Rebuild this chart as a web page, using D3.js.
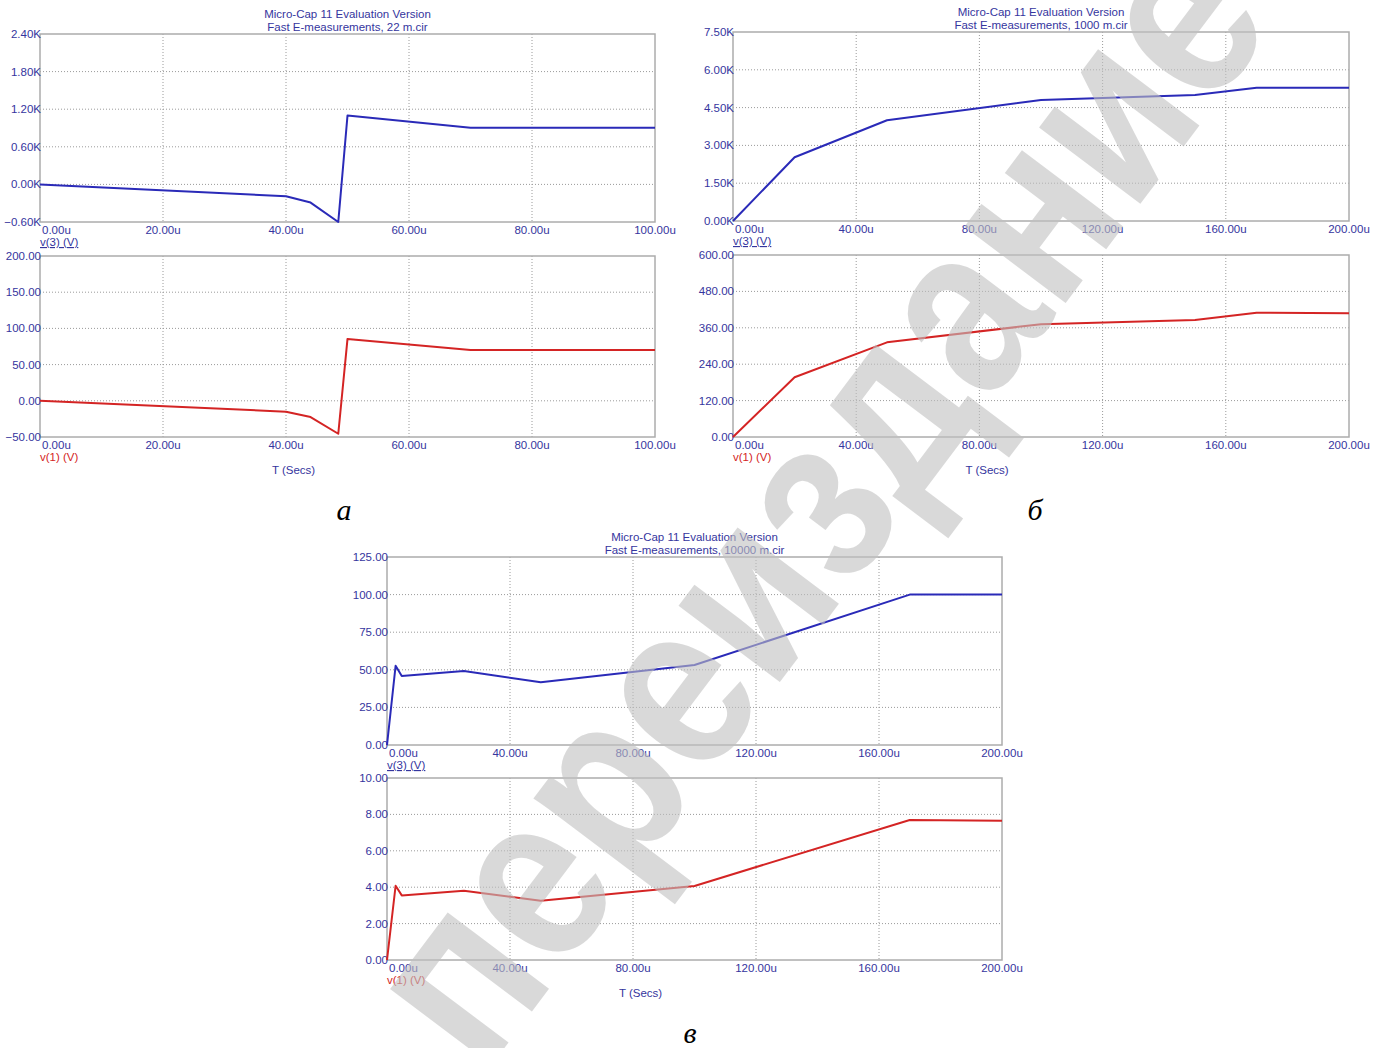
<!DOCTYPE html>
<html>
<head>
<meta charset="utf-8">
<script src="https://cdn.jsdelivr.net/npm/d3@7"></script>
<style>
  body { margin: 0; background: #fff; }
  svg text { font-family: "Liberation Sans", Arial, sans-serif; }
</style>
</head>
<body>
<svg id="vis" width="1384" height="1048"></svg>
<script>
// panel a (22 m.cir), time in us
const aTime = [0, 40, 44, 48.5, 50, 70, 100];
const aV3 = [0, -0.19, -0.29, -0.6, 1.10, 0.905, 0.905];   // K
const aV1 = [0, -15, -22.5, -45.5, 85.5, 70.2, 70.2];
const aXTicks = [0, 20, 40, 60, 80, 100];
const aV3Ticks = [-0.6, 0, 0.6, 1.2, 1.8, 2.4];
const aV1Ticks = [-50, 0, 50, 100, 150, 200];

// panel b (1000 m.cir)
const bTime = [0, 20, 50, 100, 150, 170, 200];
const bV3 = [0, 2.53, 4.0, 4.8, 5.0, 5.29, 5.29];          // K
const bV1 = [0, 197, 312, 372, 386, 410, 408];
const bXTicks = [0, 40, 80, 120, 160, 200];
const bV3Ticks = [0, 1.5, 3.0, 4.5, 6.0, 7.5];
const bV1Ticks = [0, 120, 240, 360, 480, 600];

// panel c (10000 m.cir)
const cTime = [0, 2.8, 4.8, 25, 50, 100, 170, 200];
const cV3 = [0, 52.7, 45.9, 49.2, 41.7, 53.2, 100, 100];
const cV1 = [0, 4.08, 3.55, 3.81, 3.26, 4.07, 7.69, 7.65];
const cXTicks = [0, 40, 80, 120, 160, 200];
const cV3Ticks = [0, 25, 50, 75, 100, 125];
const cV1Ticks = [0, 2, 4, 6, 8, 10];

const textBlue = "#35359e";
const lineBlue = "#2a2ab8";
const lineRed = "#d42424";
const fs = 11.5;

const svg = d3.select("#vis");

function plot(g, box, time, vals, xTicks, yTicks, yFmt, color) {
  const x = d3.scaleLinear().domain([xTicks[0], xTicks[xTicks.length - 1]]).range([box.x0, box.x1]);
  const y = d3.scaleLinear().domain([yTicks[0], yTicks[yTicks.length - 1]]).range([box.y1, box.y0]);

  // dotted grid
  g.selectAll(null).data(xTicks.slice(1, -1)).enter().append("line")
    .attr("x1", d => x(d)).attr("x2", d => x(d))
    .attr("y1", box.y0).attr("y2", box.y1)
    .attr("stroke", "#9a9a9a").attr("stroke-dasharray", "1,2");
  g.selectAll(null).data(yTicks.slice(1, -1)).enter().append("line")
    .attr("x1", box.x0).attr("x2", box.x1)
    .attr("y1", d => y(d)).attr("y2", d => y(d))
    .attr("stroke", "#9a9a9a").attr("stroke-dasharray", "1,2");

  g.append("rect")
    .attr("x", box.x0).attr("y", box.y0)
    .attr("width", box.x1 - box.x0).attr("height", box.y1 - box.y0)
    .attr("fill", "none").attr("stroke", "#acacac").attr("stroke-width", 1.5);

  // y labels
  g.selectAll(null).data(yTicks).enter().append("text")
    .attr("x", box.x0 + 1).attr("y", d => y(d)).attr("dy", "0.35em")
    .attr("text-anchor", "end").attr("font-size", fs).attr("fill", textBlue)
    .text(yFmt);

  // x labels
  g.selectAll(null).data(xTicks).enter().append("text")
    .attr("x", (d, i) => i === 0 ? box.x0 + 2 : x(d))
    .attr("y", box.y1 + 8).attr("dy", "0.35em")
    .attr("text-anchor", (d, i) => i === 0 ? "start" : "middle")
    .attr("font-size", fs).attr("fill", textBlue)
    .text(d => d3.format(".2f")(d) + "u");

  const line = d3.line().x(d => x(d[0])).y(d => y(d[1]));
  g.append("path")
    .datum(d3.zip(time, vals))
    .attr("d", line)
    .attr("fill", "none").attr("stroke", color).attr("stroke-width", 2)
    .attr("stroke-linejoin", "round");
}

function panel(p) {
  const g = svg.append("g");
  const cx = (p.x0 + p.x1) / 2;
  g.append("text").attr("x", cx).attr("y", p.titleY).attr("text-anchor", "middle")
    .attr("font-size", fs).attr("fill", textBlue).text("Micro-Cap 11 Evaluation Version");
  g.append("text").attr("x", cx).attr("y", p.titleY + 13).attr("text-anchor", "middle")
    .attr("font-size", fs).attr("fill", textBlue).text("Fast E-measurements, " + p.name);

  const fK = d => d3.format(".2f")(d) + "K";
  const f2 = d => d3.format(".2f")(d);
  plot(g, {x0: p.x0, x1: p.x1, y0: p.t0, y1: p.t1}, p.time, p.v3, p.xTicks, p.v3Ticks, p.kilo ? fK : f2, lineBlue);
  plot(g, {x0: p.x0, x1: p.x1, y0: p.b0, y1: p.b1}, p.time, p.v1, p.xTicks, p.v1Ticks, f2, lineRed);

  g.append("text").attr("x", p.x0).attr("y", p.t1 + 24)
    .attr("font-size", fs).attr("fill", textBlue)
    .attr("text-decoration", "underline").text("v(3) (V)");
  g.append("text").attr("x", p.x0).attr("y", p.b1 + 24)
    .attr("font-size", fs).attr("fill", lineRed).text("v(1) (V)");
  g.append("text").attr("x", cx - 54).attr("y", p.b1 + 37)
    .attr("text-anchor", "middle").attr("font-size", fs).attr("fill", textBlue).text("T (Secs)");

  svg.append("text").attr("x", p.letterX).attr("y", p.letterY)
    .attr("text-anchor", "middle").attr("font-size", 30).attr("font-style", "italic")
    .style("font-family", "'Liberation Serif', 'Times New Roman', serif")
    .attr("fill", "#000").text(p.letter);
}

panel({name: "22 m.cir", x0: 40, x1: 655, t0: 34, t1: 222, b0: 256, b1: 437, titleY: 18,
  time: aTime, v3: aV3, v1: aV1, xTicks: aXTicks, v3Ticks: aV3Ticks, v1Ticks: aV1Ticks, kilo: true,
  letter: "а", letterX: 344, letterY: 520});
panel({name: "1000 m.cir", x0: 733, x1: 1349, t0: 32, t1: 221, b0: 255, b1: 437, titleY: 16,
  time: bTime, v3: bV3, v1: bV1, xTicks: bXTicks, v3Ticks: bV3Ticks, v1Ticks: bV1Ticks, kilo: true,
  letter: "б", letterX: 1035, letterY: 520});
panel({name: "10000 m.cir", x0: 387, x1: 1002, t0: 557, t1: 745, b0: 778, b1: 960, titleY: 541,
  time: cTime, v3: cV3, v1: cV1, xTicks: cXTicks, v3Ticks: cV3Ticks, v1Ticks: cV1Ticks, kilo: false,
  letter: "в", letterX: 690, letterY: 1043});

// page watermark laid over the figure (runs off the page like in the scan)
svg.append("text")
  .attr("transform", "translate(830,512) rotate(-53)")
  .attr("text-anchor", "middle").attr("dy", "0.26em")
  .attr("font-size", 240).attr("font-weight", "bold")
  .attr("textLength", 1320).attr("lengthAdjust", "spacingAndGlyphs")
  .style("font-family", "'Liberation Sans', Arial, sans-serif")
  .attr("fill", "#c0c0c0").attr("fill-opacity", 0.6)
  .text("переиздание");
</script>
</body>
</html>
